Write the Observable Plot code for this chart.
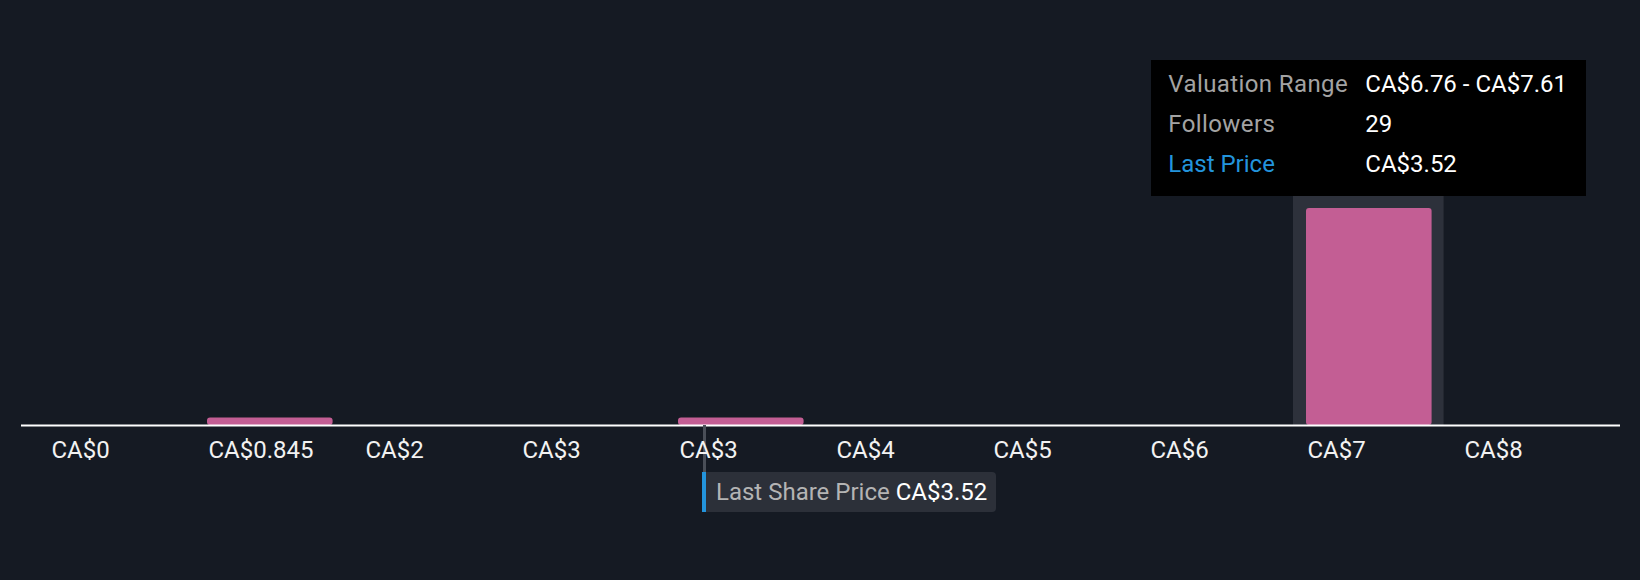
<!DOCTYPE html>
<html>
<head>
<meta charset="utf-8">
<script src="https://cdn.jsdelivr.net/npm/d3@7"></script>
<script src="https://cdn.jsdelivr.net/npm/@observablehq/plot@0.6"></script>
<style>
  html, body { margin: 0; padding: 0; background: #151a23; }
  #wrap { position: relative; width: 1640px; height: 580px; font-family: Roboto, "Noto Sans", sans-serif; overflow: hidden; }
  #wrap svg { display: block; }
  .tip { position: absolute; background: #000; box-sizing: border-box; width: 435px; height: 136px; padding: 4px 0 0 17px; font-size: 24px; line-height: 40px; white-space: nowrap; }
  .tip .k { display: inline-block; width: 197px; color: #a3a3a3; letter-spacing: 0.4px; }
  .tip .v { color: #ffffff; }
  .tip .blue { color: #2394dc; letter-spacing: 0; }
  .price { position: absolute; height: 40px; box-sizing: border-box; background: #2c3039; border-left: 4px solid #2394dc; border-radius: 0 4px 4px 0; padding: 0 9px 0 10px; font-size: 24px; line-height: 40px; white-space: nowrap; }
  .price .k { color: #b4b4b4; }
  .price .v { color: #ffffff; }
</style>
</head>
<body>
<div id="wrap"></div>
<script>
// ---- data ----
const binStarts = [0, 0.845, 1.69, 2.535, 3.38, 4.225, 5.07, 5.915, 6.76, 7.605];
const binWidth = 0.845;
const followers = [0, 1, 0, 0, 1, 0, 0, 0, 29, 0];
const tickLabels = ["CA$0", "CA$0.845", "CA$2", "CA$3", "CA$3", "CA$4", "CA$5", "CA$6", "CA$7", "CA$8"];
const highlightBin = 8;
const lastPrice = 3.52;
const lastPriceLabel = "CA$3.52";
const tooltipKeys = ["Valuation Range", "Followers", "Last Price"];
const tooltipValues = ["CA$6.76 - CA$7.61", "29", "CA$3.52"];

const bins = binStarts.map((s, i) => ({start: s, end: s + binWidth * 0.8, followers: followers[i], label: tickLabels[i]}));
const maxF = d3.max(followers);
const hl = bins[highlightBin];

const chart = Plot.plot({
  width: 1640,
  height: 580,
  marginLeft: 21,
  marginRight: 20,
  marginTop: 0,
  marginBottom: 155,
  style: {background: "transparent", fontFamily: "Roboto, sans-serif"},
  x: {domain: [0, binWidth * 10], range: [50, 1620], axis: null},
  y: {domain: [0, maxF], range: [425, 208], axis: null},
  marks: [
    Plot.rect([hl], {x1: "start", x2: "end", y1: 0, y2: maxF * 1.3, fill: "#2d313b", insetLeft: -13, insetRight: -12}),
    Plot.rectY(bins.filter(d => d.followers > 0), {x1: "start", x2: "end", y: "followers", fill: "#c35e94", rx: 3}),
    Plot.ruleY([0], {stroke: "#ffffff", strokeWidth: 2}),
    Plot.ruleX([lastPrice], {y1: 0, y2: 0, insetBottom: -87, stroke: "#4a4f58", strokeWidth: 3}),
    Plot.text(bins, {x: "start", y: 0, text: "label", textAnchor: "start", lineAnchor: "top", dy: 15, dx: 1, fill: "#f2f2f2", fontSize: 24})
  ]
});

const wrap = document.getElementById("wrap");
wrap.appendChild(chart);

const xs = chart.scale("x");
const ys = chart.scale("y");

// last share price label
const price = document.createElement("div");
price.className = "price";
price.innerHTML = `<span class="k">Last Share Price</span> <span class="v">${lastPriceLabel}</span>`;
price.style.left = (xs.apply(lastPrice) - 2) + "px";
price.style.top = "472px";
wrap.appendChild(price);

// tooltip
const tip = document.createElement("div");
tip.className = "tip";
tip.innerHTML = tooltipKeys.map((k, i) =>
  `<div><span class="k${i === 2 ? " blue" : ""}">${k}</span><span class="v">${tooltipValues[i]}</span></div>`).join("");
const cx = (xs.apply(hl.start) + xs.apply(hl.end)) / 2;
tip.style.left = (cx - 435 / 2) + "px";
tip.style.top = (ys.apply(maxF) - 12 - 136) + "px";
wrap.appendChild(tip);
</script>
</body>
</html>
